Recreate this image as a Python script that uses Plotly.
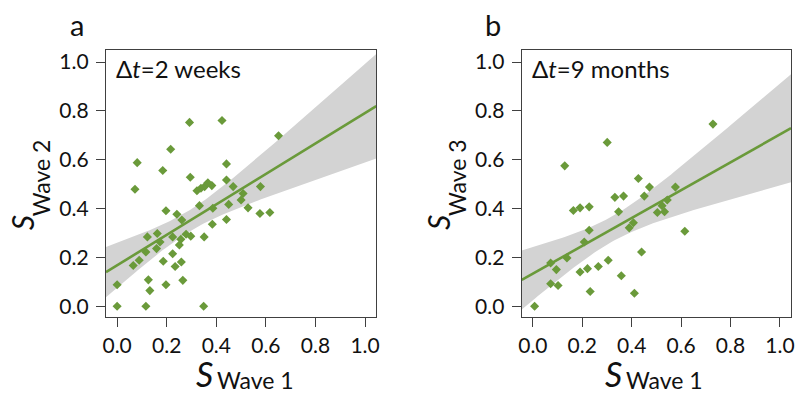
import numpy as np
import plotly.graph_objects as go

# ---------------- data ----------------
a_x = [0.292, 0.423, 0.651, 0.216, 0.081, 0.441, 0.184, 0.072, 0.295, 0.441,
       0.468, 0.578, 0.322, 0.338, 0.353, 0.366, 0.382, 0.508, 0.500, 0.332,
       0.450, 0.386, 0.528, 0.197, 0.576, 0.616, 0.241, 0.261, 0.384, 0.441,
       0.122, 0.162, 0.224, 0.278, 0.297, 0.351, 0.257, 0.173, 0.251, 0.159,
       0.116, 0.224, 0.065, 0.089, 0.186, 0.234, 0.259, 0.126, 0.000, 0.197,
       0.265, 0.132, 0.000, 0.116, 0.349]
a_y = [0.753, 0.761, 0.698, 0.643, 0.588, 0.583, 0.556, 0.479, 0.528, 0.517,
       0.490, 0.490, 0.473, 0.483, 0.490, 0.506, 0.494, 0.462, 0.435, 0.412,
       0.417, 0.401, 0.403, 0.391, 0.380, 0.384, 0.377, 0.353, 0.336, 0.355,
       0.284, 0.298, 0.284, 0.295, 0.287, 0.284, 0.274, 0.263, 0.251, 0.236,
       0.222, 0.215, 0.167, 0.188, 0.184, 0.163, 0.181, 0.108, 0.088, 0.088,
       0.106, 0.064, 0.000, 0.000, 0.000]

b_x = [0.729, 0.301, 0.129, 0.427, 0.472, 0.577, 0.332, 0.367, 0.451, 0.544,
       0.523, 0.164, 0.191, 0.228, 0.347, 0.504, 0.533, 0.407, 0.390, 0.228,
       0.615, 0.208, 0.138, 0.072, 0.305, 0.440, 0.095, 0.191, 0.221, 0.265,
       0.072, 0.102, 0.358, 0.232, 0.411, 0.007]
b_y = [0.746, 0.671, 0.575, 0.523, 0.488, 0.488, 0.446, 0.451, 0.451, 0.435,
       0.412, 0.392, 0.403, 0.407, 0.387, 0.384, 0.387, 0.342, 0.321, 0.311,
       0.307, 0.263, 0.198, 0.177, 0.188, 0.222, 0.150, 0.140, 0.154, 0.163,
       0.092, 0.085, 0.125, 0.060, 0.053, 0.000]

tick_vals = [0.0, 0.2, 0.4, 0.6, 0.8, 1.0]
tick_text = ["0.0", "0.2", "0.4", "0.6", "0.8", "1.0"]
panel_labels = ["a", "b"]
dt_labels = ["Δ<i>t</i>=2 weeks", "Δ<i>t</i>=9 months"]
y_subs = ["Wave 2", "Wave 3"]
x_sub = "Wave 1"

GREEN = "#6a9a3a"
BAND = "#d3d3d3"
AX = "#404040"
FONT = "Lato, 'Open Sans', sans-serif"


def t975(df):
    z = 1.959964
    return z + (z**3 + z) / (4 * df) + (5 * z**5 + 16 * z**3 + 3 * z) / (96 * df**2)


def fit_band(x, y, grid):
    x = np.asarray(x); y = np.asarray(y)
    n = len(x)
    b, a = np.polyfit(x, y, 1)
    res = y - (a + b * x)
    s = np.sqrt(np.sum(res**2) / (n - 2))
    sxx = np.sum((x - x.mean())**2)
    se = s * np.sqrt(1.0 / n + (grid - x.mean())**2 / sxx)
    f = a + b * grid
    t = t975(n - 2)
    return f, f - t * se, f + t * se


XR = [-0.045, 1.045]
YR = [-0.045, 1.05]
grid = np.linspace(XR[0], XR[1], 120)

fig = go.Figure()
for i, (xs, ys) in enumerate([(a_x, a_y), (b_x, b_y)]):
    xa = "x" if i == 0 else "x2"
    ya = "y" if i == 0 else "y2"
    f, lo, hi = fit_band(xs, ys, grid)
    fig.add_trace(go.Scatter(x=np.concatenate([grid, grid[::-1]]),
                             y=np.concatenate([hi, lo[::-1]]),
                             fill="toself", fillcolor=BAND, line=dict(width=0),
                             mode="lines", hoverinfo="skip", showlegend=False,
                             xaxis=xa, yaxis=ya))
    fig.add_trace(go.Scatter(x=grid, y=f, mode="lines",
                             line=dict(color=GREEN, width=2.6),
                             showlegend=False, xaxis=xa, yaxis=ya))
    fig.add_trace(go.Scatter(x=xs, y=ys, mode="markers",
                             marker=dict(symbol="diamond", size=7, color=GREEN),
                             showlegend=False, xaxis=xa, yaxis=ya))

ax_common = dict(showline=True, mirror=True, linecolor=AX, linewidth=1.3,
                 ticks="outside", ticklen=9, tickwidth=1.3, tickcolor=AX,
                 tickvals=tick_vals, ticktext=tick_text, showgrid=False,
                 zeroline=False, tickfont=dict(family=FONT, size=21, color="#111"))

ydom = [(399 - 317) / 399, (399 - 49) / 399]
fig.update_layout(
    width=797, height=399, margin=dict(l=0, r=0, t=0, b=0),
    paper_bgcolor="white", plot_bgcolor="white",
    xaxis=dict(domain=[103 / 797, 376 / 797], range=XR, anchor="y", **ax_common),
    yaxis=dict(domain=ydom, range=YR, anchor="x", ticklabelstandoff=3, **ax_common),
    xaxis2=dict(domain=[523 / 797, 795 / 797], range=XR, anchor="y2", **ax_common),
    yaxis2=dict(domain=ydom, range=YR, anchor="x2", ticklabelstandoff=3, **ax_common),
)

ann = []
box_left = [103, 523]
for i in range(2):
    L = box_left[i]
    # panel letter
    ann.append(dict(x=(L - 29) / 797, y=1 - 24 / 399, xref="paper", yref="paper",
                    text=panel_labels[i], showarrow=False, xanchor="center", yanchor="middle",
                    font=dict(family=FONT, size=29, color="#111")))
    # delta t label
    ann.append(dict(x=(L + 8) / 797, y=1 - 68 / 399, xref="paper", yref="paper",
                    text=dt_labels[i], showarrow=False, xanchor="left", yanchor="middle",
                    font=dict(family=FONT, size=24, color="#111")))
    # x title
    sx = L + 100 if i == 0 else L + 93
    ann.append(dict(x=sx / 797, y=1 - 373 / 399, xref="paper", yref="paper",
                    text="<i>S</i>", showarrow=False, xanchor="center", yanchor="middle",
                    font=dict(family=FONT, size=34, color="#111")))
    ann.append(dict(x=(sx + 10) / 797, y=1 - 380 / 399, xref="paper", yref="paper",
                    text=x_sub, showarrow=False, xanchor="left", yanchor="middle",
                    font=dict(family=FONT, size=23, color="#111")))
    # y title (rotated)
    ann.append(dict(x=(L - 84) / 797, y=1 - 222 / 399, xref="paper", yref="paper",
                    text="<i>S</i>", showarrow=False, xanchor="center", yanchor="middle",
                    textangle=-90, font=dict(family=FONT, size=30, color="#111")))
    ann.append(dict(x=(L - 66) / 797, y=1 - 177 / 399, xref="paper", yref="paper",
                    text=y_subs[i], showarrow=False, xanchor="center", yanchor="middle",
                    textangle=-90, font=dict(family=FONT, size=23, color="#111")))
fig.update_layout(annotations=ann)

fig.write_html("out.html", config={"displayModeBar": False},
               post_script="document.body.style.margin='0';document.body.style.overflow='hidden';")
